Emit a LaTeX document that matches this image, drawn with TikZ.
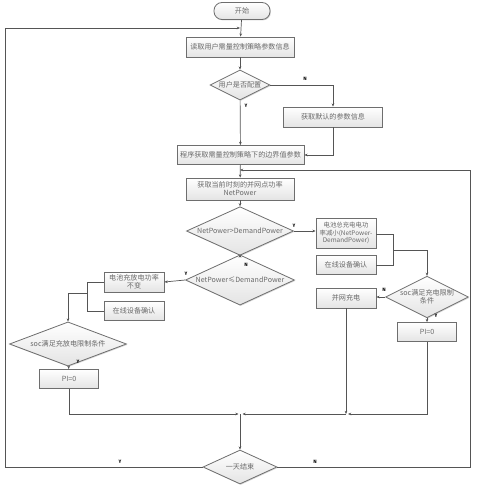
\documentclass[tikz,border=0pt]{standalone}
\usepackage{fontspec}
\setmainfont{Noto Sans CJK SC}
\usetikzlibrary{arrows.meta,shapes.geometric,shadows}
\definecolor{linecol}{RGB}{85,85,85}
\definecolor{bordcol}{RGB}{110,110,110}
\definecolor{txtcol}{RGB}{105,105,105}
\definecolor{fillbot}{RGB}{228,228,228}
\tikzset{
  base/.style={draw=bordcol, line width=0.8pt, top color=white, bottom color=fillbot,
    text=txtcol, font=\fontsize{7.1}{8}\selectfont, align=center, inner sep=1pt,
    drop shadow={shadow xshift=0.9pt, shadow yshift=-0.9pt, fill=black!30}},
  procbox/.style={base, rectangle, minimum width=#1, minimum height=19pt},
  procbox/.default=60pt,
  decide/.style={base, diamond, aspect=2, inner sep=0pt},
  term/.style={base, rectangle, rounded corners=8pt, minimum width=56pt, minimum height=17pt},
  conn/.style={draw=linecol, line width=0.7pt},
  arr/.style={conn, -{Stealth[length=3.2pt,width=2.6pt]}},
  lbl/.style={font=\fontsize{4.5}{5}\selectfont\bfseries\itshape, text=black, inner sep=0pt}
}
\begin{document}
\begin{tikzpicture}[x=1pt,y=-1pt]
\path[use as bounding box, fill=white] (0,0) rectangle (478,487);

% nodes
\node[term] (start) at (242,11) {开始};
\node[procbox=108pt, minimum height=20pt] (b1) at (240,47) {读取用户需量控制策略参数信息};
\node[decide, minimum width=60pt, minimum height=30pt] (d1) at (240,85) {用户是否配置};
\node[procbox=99pt, minimum height=20pt] (bdef) at (333,117) {获取默认的参数信息};
\node[procbox=127pt] (b3) at (240.5,155) {程序获取需量控制策略下的边界值参数};
\node[procbox=108pt, minimum height=22pt] (b4) at (240,189) {获取当前时刻的并网点功率\\NetPower};
\node[decide, minimum width=107pt, minimum height=34pt] (d2) at (240,231) {NetPower>DemandPower};
\node[procbox=60pt, minimum height=30pt, font=\fontsize{6.4}{7.6}\selectfont] (b5) at (346,233) {电池总充电电功\\率减小(NetPower-\\DemandPower)};
\node[procbox=60pt] (b6) at (346,265) {在线设备确认};
\node[decide, minimum width=73pt, minimum height=31pt] (d3) at (427,297) {soc满足充电限制\\条件};
\node[procbox=60pt, minimum height=20pt] (b7) at (346,298) {并网充电};
\node[procbox=59pt] (b8) at (427,332) {PI=0};
\node[decide, minimum width=109pt, minimum height=37pt] (d4) at (240,280) {NetPower≤DemandPower};
\node[procbox=60pt, minimum height=20pt] (b9) at (134,282) {电池充放电功率\\不变};
\node[procbox=60pt] (b10) at (134,311) {在线设备确认};
\node[decide, minimum width=117pt, minimum height=26pt] (d5) at (68,344) {soc满足充放电限制条件};
\node[procbox=59pt] (b11) at (69,379) {PI=0};
\node[decide, minimum width=74pt, minimum height=34pt] (d6) at (240,467) {一天结束};

% junction coordinates
\coordinate (jtop) at (240,28);
\coordinate (jleft) at (5,28);
\coordinate (jleftb) at (5,467);
\coordinate (jdef) at (333,85);
\coordinate (jdefb) at (333,155);
\coordinate (jloop) at (240,170);
\coordinate (jright) at (470,170);
\coordinate (jrightb) at (470,467);
\coordinate (jb5) at (393,234);
\coordinate (jb6) at (393,265);
\coordinate (jmid) at (393,250);
\coordinate (jd3) at (427,250);
\coordinate (jb9) at (87,282);
\coordinate (jb10) at (87,311);
\coordinate (jmidl) at (87,293);
\coordinate (jd5) at (68,293);
\coordinate (jb11) at (69,414);
\coordinate (jcen) at (240,414);
\coordinate (jb7) at (346,414);
\coordinate (jb8) at (427,414);

% connectors
\draw[arr] (start) -- (b1);
\draw[arr] (b1) -- (d1);
\draw[arr] (d1) -- (b3);
\draw[arr] (d1.east) -- (jdef) -- (bdef.north);
\draw[arr] (bdef.south) -- (jdefb) -- (b3.east);
\draw[arr] (b3) -- (b4);
\draw[arr] (b4) -- (d2);
\draw[arr] (d2.east) -- (b5.west |- d2.east);
\draw[conn] (b5.east |- jb5) -- (jb5) -- (jb6) -- (b6.east);
\draw[arr] (jmid) -- (jd3) -- (d3.north);
\draw[arr] (d3.west) -- (b7.east |- d3.west);
\draw[arr] (d3) -- (b8);
\draw[arr] (d2) -- (d4);
\draw[arr] (d4.west) -- (b9.east);
\draw[conn] (b9.west) -- (jb9) -- (jb10) -- (b10.west);
\draw[arr] (jmidl) -- (jd5) -- (d5.north);
\draw[arr] (d5) -- (b11);
\draw[arr] (b11.south) -- (jb11) -- ([xshift=-1.5pt]jcen);
\draw[arr] (b7.south) -- (jb7);
\draw[arr] (b8.south) -- (jb8) -- ([xshift=2pt]jb7);
\draw[arr] (jb7) -- ([xshift=2.5pt]jcen);
\draw[arr] (jcen) -- (d6.north);
\draw[arr] (d6.west) -- (jleftb) -- (jleft) -- (jtop);
\draw[arr] (d6.east) -- (jrightb) -- (jright) -- (jloop);

% branch labels
\node[lbl] at (246,106) {Y};
\node[lbl] at (305,79) {N};
\node[lbl] at (294,226) {Y};
\node[lbl] at (246,265) {N};
\node[lbl] at (186,274) {Y};
\node[lbl] at (384,290) {N};
\node[lbl] at (436,316) {Y};
\node[lbl] at (78,362) {Y};
\node[lbl] at (120,462) {Y};
\node[lbl] at (315,462) {N};
\end{tikzpicture}
\end{document}
